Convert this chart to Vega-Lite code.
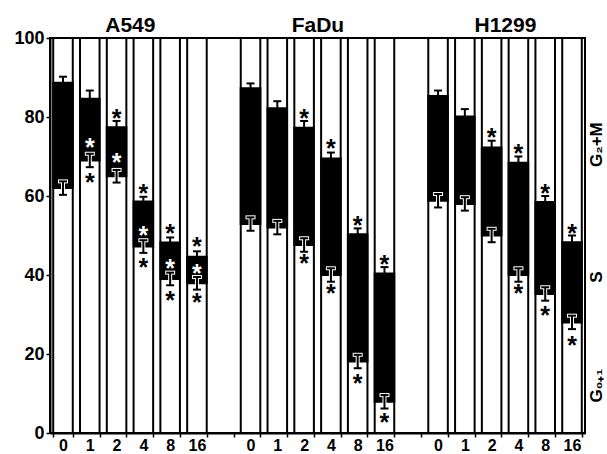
{
  "$schema": "https://vega.github.io/schema/vega-lite/v6.json",
  "width": 535,
  "height": 395,
  "autosize": "none",
  "padding": {"left": 50, "top": 38, "right": 22, "bottom": 21},
  "background": "white",
  "config": {
    "font": "Liberation Sans",
    "view": {"stroke": "black", "strokeWidth": 2},
    "axis": {"domainColor": "black", "domainWidth": 2, "tickColor": "black", "tickWidth": 1.5, "labelColor": "black", "labelFontWeight": "bold", "labelFont": "Liberation Sans", "grid": false}
  },
  "datasets": {
    "bars": [
      {"key": "A549_0", "group": "A549", "dose": "0", "low": 62.0, "high": 88.7, "cap": 90.2, "lowMin": 60.3, "lowMax": 63.7},
      {"key": "A549_1", "group": "A549", "dose": "1", "low": 69.0, "high": 84.6, "cap": 86.7, "lowMin": 67.3, "lowMax": 70.7},
      {"key": "A549_2", "group": "A549", "dose": "2", "low": 65.0, "high": 77.4, "cap": 79.0, "lowMin": 63.4, "lowMax": 66.6},
      {"key": "A549_4", "group": "A549", "dose": "4", "low": 47.2, "high": 58.6, "cap": 59.8, "lowMin": 45.6, "lowMax": 48.8},
      {"key": "A549_8", "group": "A549", "dose": "8", "low": 39.0, "high": 48.2, "cap": 49.5, "lowMin": 37.4, "lowMax": 40.6},
      {"key": "A549_16", "group": "A549", "dose": "16", "low": 37.9, "high": 44.6, "cap": 46.0, "lowMin": 36.3, "lowMax": 39.5},
      {"key": "FaDu_0", "group": "FaDu", "dose": "0", "low": 52.9, "high": 87.3, "cap": 88.5, "lowMin": 51.2, "lowMax": 54.6},
      {"key": "FaDu_1", "group": "FaDu", "dose": "1", "low": 52.0, "high": 82.2, "cap": 84.0, "lowMin": 50.3, "lowMax": 53.7},
      {"key": "FaDu_2", "group": "FaDu", "dose": "2", "low": 47.6, "high": 77.3, "cap": 79.0, "lowMin": 45.9, "lowMax": 49.3},
      {"key": "FaDu_4", "group": "FaDu", "dose": "4", "low": 40.0, "high": 69.5, "cap": 71.0, "lowMin": 38.3, "lowMax": 41.7},
      {"key": "FaDu_8", "group": "FaDu", "dose": "8", "low": 18.1, "high": 50.3, "cap": 51.8, "lowMin": 16.4, "lowMax": 19.8},
      {"key": "FaDu_16", "group": "FaDu", "dose": "16", "low": 7.9, "high": 40.4, "cap": 42.0, "lowMin": 6.2, "lowMax": 9.6},
      {"key": "H1299_0", "group": "H1299", "dose": "0", "low": 58.8, "high": 85.3, "cap": 86.7, "lowMin": 57.1, "lowMax": 60.5},
      {"key": "H1299_1", "group": "H1299", "dose": "1", "low": 58.0, "high": 80.1, "cap": 82.0, "lowMin": 56.3, "lowMax": 59.7},
      {"key": "H1299_2", "group": "H1299", "dose": "2", "low": 50.0, "high": 72.3, "cap": 74.0, "lowMin": 48.3, "lowMax": 51.7},
      {"key": "H1299_4", "group": "H1299", "dose": "4", "low": 40.0, "high": 68.4, "cap": 70.0, "lowMin": 38.3, "lowMax": 41.7},
      {"key": "H1299_8", "group": "H1299", "dose": "8", "low": 35.2, "high": 58.5, "cap": 60.0, "lowMin": 33.5, "lowMax": 36.9},
      {"key": "H1299_16", "group": "H1299", "dose": "16", "low": 28.0, "high": 48.3, "cap": 50.0, "lowMin": 26.3, "lowMax": 29.7}
    ],
    "stars": [
      {"key": "A549_1", "phase": "S", "y": 73.7},
      {"key": "A549_1", "phase": "G0+1", "y": 64.9},
      {"key": "A549_2", "phase": "G2+M", "y": 80.9},
      {"key": "A549_2", "phase": "S", "y": 70.0},
      {"key": "A549_4", "phase": "G2+M", "y": 62.0},
      {"key": "A549_4", "phase": "S", "y": 51.4},
      {"key": "A549_4", "phase": "G0+1", "y": 43.4},
      {"key": "A549_8", "phase": "G2+M", "y": 52.0},
      {"key": "A549_8", "phase": "S", "y": 43.0},
      {"key": "A549_8", "phase": "G0+1", "y": 34.9},
      {"key": "A549_16", "phase": "G2+M", "y": 48.6},
      {"key": "A549_16", "phase": "S", "y": 41.7},
      {"key": "A549_16", "phase": "G0+1", "y": 34.5},
      {"key": "FaDu_2", "phase": "G2+M", "y": 80.9},
      {"key": "FaDu_2", "phase": "G0+1", "y": 44.2},
      {"key": "FaDu_4", "phase": "G2+M", "y": 73.3},
      {"key": "FaDu_4", "phase": "G0+1", "y": 36.6},
      {"key": "FaDu_8", "phase": "G2+M", "y": 53.9},
      {"key": "FaDu_8", "phase": "G0+1", "y": 13.8},
      {"key": "FaDu_16", "phase": "G2+M", "y": 44.0},
      {"key": "FaDu_16", "phase": "G0+1", "y": 4.0},
      {"key": "H1299_2", "phase": "G2+M", "y": 76.3},
      {"key": "H1299_4", "phase": "G2+M", "y": 72.1},
      {"key": "H1299_4", "phase": "G0+1", "y": 36.6},
      {"key": "H1299_8", "phase": "G2+M", "y": 62.0},
      {"key": "H1299_8", "phase": "G0+1", "y": 31.1},
      {"key": "H1299_16", "phase": "G2+M", "y": 51.8},
      {"key": "H1299_16", "phase": "G0+1", "y": 23.5}
    ],
    "titles": [
      {"key": "A549_2", "label": "A549"},
      {"key": "FaDu_2", "label": "FaDu"},
      {"key": "H1299_2", "label": "H1299"}
    ],
    "phases": [
      {"key": "H1299_16", "label": "G₂+M", "y": 73},
      {"key": "H1299_16", "label": "S", "y": 39.5},
      {"key": "H1299_16", "label": "G₀₊₁", "y": 12}
    ]
  },
  "encoding": {
    "x": {
      "field": "key", "type": "nominal", "title": null,
      "scale": {
        "domain": ["A549_0", "A549_1", "A549_2", "A549_4", "A549_8", "A549_16", "g1_", "FaDu_0", "FaDu_1", "FaDu_2", "FaDu_4", "FaDu_8", "FaDu_16", "g2_", "H1299_0", "H1299_1", "H1299_2", "H1299_4", "H1299_8", "H1299_16"],
        "paddingInner": 0.27, "paddingOuter": 0.12
      },
      "axis": {"labelExpr": "split(datum.value, '_')[1]", "labelAngle": 0, "labelFontSize": 16, "tickSize": 4, "tickBand": "extent", "labelPadding": 0}
    }
  },
  "layer": [
    {
      "data": {"name": "bars"},
      "mark": {"type": "bar", "fill": "white", "stroke": "black", "strokeWidth": 2},
      "encoding": {
        "y": {"datum": 100, "type": "quantitative", "scale": {"domain": [0, 100], "nice": false}, "title": null,
              "axis": {"values": [0, 20, 40, 60, 80, 100], "labelFontSize": 18, "tickSize": 4, "labelPadding": 2, "title": null}}
      }
    },
    {
      "data": {"name": "bars"},
      "mark": {"type": "bar", "fill": "black", "stroke": "black", "strokeWidth": 2},
      "encoding": {"y": {"field": "low", "type": "quantitative", "title": null}, "y2": {"field": "high"}}
    },
    {
      "data": {"name": "bars"},
      "mark": {"type": "rule", "color": "black", "strokeWidth": 2},
      "encoding": {"y": {"field": "high", "type": "quantitative", "title": null}, "y2": {"field": "cap"}}
    },
    {
      "data": {"name": "bars"},
      "mark": {"type": "tick", "color": "black", "size": 8, "thickness": 2, "opacity": 1},
      "encoding": {"y": {"field": "cap", "type": "quantitative", "title": null}}
    },
    {
      "data": {"name": "bars"},
      "mark": {"type": "rule", "color": "white", "strokeWidth": 4},
      "encoding": {"y": {"field": "lowMin", "type": "quantitative", "title": null}, "y2": {"field": "lowMax"}}
    },
    {
      "data": {"name": "bars"},
      "mark": {"type": "tick", "color": "white", "size": 10, "thickness": 4, "opacity": 1},
      "encoding": {"y": {"field": "lowMax", "type": "quantitative", "title": null}}
    },
    {
      "data": {"name": "bars"},
      "mark": {"type": "rule", "color": "black", "strokeWidth": 2},
      "encoding": {"y": {"field": "lowMin", "type": "quantitative", "title": null}, "y2": {"field": "lowMax"}}
    },
    {
      "data": {"name": "bars"},
      "mark": {"type": "tick", "color": "black", "size": 8, "thickness": 2, "opacity": 1},
      "encoding": {"y": {"field": "lowMax", "type": "quantitative", "title": null}}
    },
    {
      "data": {"name": "bars"},
      "mark": {"type": "tick", "color": "black", "size": 8, "thickness": 2, "opacity": 1},
      "encoding": {"y": {"field": "lowMin", "type": "quantitative", "title": null}}
    },
    {
      "data": {"name": "stars"},
      "mark": {"type": "text", "text": "*", "fontSize": 25, "fontWeight": "bold", "baseline": "alphabetic", "align": "center", "dy": 14},
      "encoding": {
        "y": {"field": "y", "type": "quantitative", "title": null},
        "color": {"field": "phase", "type": "nominal", "legend": null,
                  "scale": {"domain": ["G2+M", "S", "G0+1"], "range": ["black", "white", "black"]}}
      }
    },
    {
      "data": {"name": "titles"},
      "mark": {"type": "text", "fontSize": 21, "fontWeight": "bold", "color": "black", "baseline": "alphabetic", "align": "center", "dx": 4, "dy": -6},
      "encoding": {
        "x": {"field": "key", "type": "nominal", "bandPosition": 1},
        "y": {"datum": 100, "type": "quantitative", "title": null},
        "text": {"field": "label"}
      }
    },
    {
      "data": {"name": "phases"},
      "mark": {"type": "text", "fontSize": 17, "fontWeight": "bold", "color": "black", "baseline": "middle", "align": "center", "angle": 270, "dy": 15},
      "encoding": {
        "x": {"field": "key", "type": "nominal", "bandPosition": 1},
        "y": {"field": "y", "type": "quantitative", "title": null},
        "text": {"field": "label"}
      }
    }
  ]
}
